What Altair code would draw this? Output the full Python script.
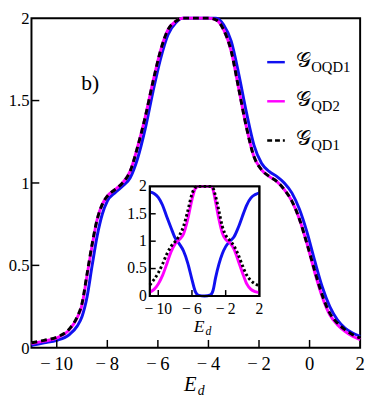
import altair as alt
import pandas as pd

# ---------------- data ----------------
E_main = [-11, -10.5, -10, -9.5, -9.2, -9.0, -8.8, -8.6, -8.4, -8.2, -8.0, -7.7, -7.4,
          -7.1, -6.8, -6.5, -6.2, -5.9, -5.6, -5.3, -5.0, -4.5, -4.0, -3.7, -3.4, -3.1,
          -2.8, -2.5, -2.2, -1.9, -1.6, -1.3, -1.0, -0.7, -0.4, -0.1, 0.2, 0.5, 0.8,
          1.1, 1.4, 1.7, 2.0]
G_OQD1_main = [0.015, 0.03, 0.045, 0.08, 0.13, 0.19, 0.31, 0.50, 0.68, 0.81, 0.89, 0.94, 0.98,
               1.03, 1.15, 1.33, 1.55, 1.75, 1.90, 1.97, 2.0, 2.0, 2.0, 2.0, 1.96, 1.86,
               1.66, 1.43, 1.23, 1.12, 1.07, 1.04, 1.00, 0.94, 0.84, 0.70, 0.53, 0.37, 0.25,
               0.17, 0.12, 0.09, 0.07]
G_QD2_main = [0.025, 0.04, 0.06, 0.11, 0.18, 0.26, 0.44, 0.62, 0.78, 0.87, 0.92, 0.96, 1.00,
              1.07, 1.22, 1.40, 1.61, 1.80, 1.93, 1.98, 2.0, 2.0, 2.0, 1.99, 1.93, 1.80,
              1.57, 1.34, 1.16, 1.08, 1.04, 1.01, 0.96, 0.89, 0.78, 0.63, 0.46, 0.31, 0.20,
              0.14, 0.10, 0.07, 0.05]
G_QD1_main = [0.03, 0.045, 0.065, 0.115, 0.185, 0.27, 0.45, 0.63, 0.78, 0.87, 0.92, 0.96, 1.00,
              1.07, 1.22, 1.40, 1.61, 1.80, 1.93, 1.98, 2.0, 2.0, 2.0, 1.99, 1.93, 1.80,
              1.57, 1.34, 1.16, 1.08, 1.04, 1.01, 0.96, 0.89, 0.78, 0.63, 0.47, 0.32, 0.21,
              0.15, 0.11, 0.08, 0.06]

E_inset = [-11, -10.5, -10, -9.5, -9.0, -8.5, -8.0, -7.5, -7.0, -6.5, -6.0, -5.6, -5.2,
           -4.5, -3.8, -3.5, -3.2, -2.8, -2.4, -2.0, -1.5, -1.0, -0.5, 0.0, 0.5, 1.0, 1.5, 2.0]
G_OQD1_inset = [1.9, 1.87, 1.8, 1.66, 1.45, 1.25, 1.06, 0.95, 0.82, 0.60, 0.30, 0.08, 0.01,
                0.0, 0.02, 0.10, 0.33, 0.58, 0.77, 0.90, 1.00, 1.08, 1.25, 1.46, 1.66, 1.79, 1.85, 1.88]
G_QD2_inset = [0.07, 0.12, 0.22, 0.37, 0.58, 0.80, 0.95, 1.03, 1.13, 1.40, 1.76, 1.96, 2.0,
               2.0, 2.0, 1.94, 1.72, 1.40, 1.15, 1.03, 0.97, 0.85, 0.64, 0.42, 0.22, 0.12, 0.08, 0.06]
G_QD1_inset = [0.2, 0.3, 0.42, 0.58, 0.76, 0.90, 0.99, 1.10, 1.27, 1.55, 1.86, 1.98, 2.0,
               2.0, 2.0, 1.97, 1.82, 1.55, 1.27, 1.11, 1.01, 0.91, 0.75, 0.55, 0.38, 0.28, 0.22, 0.18]

x_domain = [-11, 2]
y_domain = [0, 2]
x_ticks_main = [-10, -8, -6, -4, -2, 0, 2]
x_labels_main = ["\u2212\u200910", "\u2212\u20098", "\u2212\u20096", "\u2212\u20094", "\u2212\u20092", "0", "2"]
y_ticks_main = [0, 0.5, 1, 1.5, 2]
y_labels_main = ["0", "0.5", "1", "1.5", "2"]
x_ticks_inset = [-10, -6, -2, 2]
x_labels_inset = ["\u2212\u200910", "\u2212\u20096", "\u2212\u20092", "2"]
y_ticks_inset = [0, 0.5, 1, 1.5, 2]
y_labels_inset = ["0", "0.5", "1", "1.5", "2"]
series_names = ["OQD1", "QD2", "QD1"]

# ---------------- styling / layout ----------------
FONT = "'Liberation Serif', 'Times New Roman', Times, serif"
BLUE = "#1010f0"
MAGENTA = "#ff00ff"
BLACK = "#000000"
W, H = 336, 337
IX0, IX1 = 121, 233     # inset horizontal pixel range
IY0, IY1 = 284, 172     # inset vertical pixel range (bottom, top)

main_df = pd.DataFrame({"E": E_main, "OQD1": G_OQD1_main, "QD2": G_QD2_main, "QD1": G_QD1_main})
inset_df = pd.DataFrame({"E": E_inset, "OQD1": G_OQD1_inset, "QD2": G_QD2_inset, "QD1": G_QD1_inset})

xs_main = alt.Scale(domain=x_domain, nice=False, zero=False)
ys_main = alt.Scale(domain=y_domain, nice=False, zero=False)
xs_in = alt.Scale(domain=x_domain, range=[IX0, IX1], nice=False, zero=False)
ys_in = alt.Scale(domain=y_domain, range=[IY0, IY1], nice=False, zero=False)


def line(df, col, xs, ys, color, dash=None):
    kw = dict(color=color, strokeWidth=3, interpolate="monotone")
    if dash:
        kw["strokeDash"] = dash
    return alt.Chart(df).mark_line(**kw).encode(
        x=alt.X("E:Q", scale=xs, axis=None),
        y=alt.Y(f"{col}:Q", scale=ys, axis=None),
    )


def xticks(vals, xs, y0, length):
    return alt.Chart(pd.DataFrame({"t": vals})).mark_rule(color="black", strokeWidth=1.5).encode(
        x=alt.X("t:Q", scale=xs, axis=None), y=alt.value(y0), y2=alt.value(y0 - length))


def yticks(vals, ys, x0, length):
    return alt.Chart(pd.DataFrame({"t": vals})).mark_rule(color="black", strokeWidth=1.5).encode(
        y=alt.Y("t:Q", scale=ys, axis=None), x=alt.value(x0), x2=alt.value(x0 + length))


def xlabels(vals, labels, xs, ybase, size):
    return alt.Chart(pd.DataFrame({"t": vals, "lab": labels})).mark_text(
        font=FONT, fontSize=size, align="center", baseline="alphabetic", color="black").encode(
        x=alt.X("t:Q", scale=xs, axis=None), y=alt.value(ybase), text="lab:N")


def ylabels(vals, labels, ys, xright, size):
    return alt.Chart(pd.DataFrame({"t": vals, "lab": labels})).mark_text(
        font=FONT, fontSize=size, align="right", baseline="alphabetic", dy=round(size * 0.33),
        color="black").encode(
        y=alt.Y("t:Q", scale=ys, axis=None), x=alt.value(xright), text="lab:N")


main_layer = alt.layer(
    line(main_df, "OQD1", xs_main, ys_main, BLUE),
    line(main_df, "QD2", xs_main, ys_main, MAGENTA),
    line(main_df, "QD1", xs_main, ys_main, BLACK, dash=[6, 4]),
    xticks(x_ticks_main[:-1], xs_main, H, 8),
    yticks(y_ticks_main[1:-1], ys_main, 0, 8),
    xlabels(x_ticks_main, x_labels_main, xs_main, H + 23, 19),
    ylabels(y_ticks_main, y_labels_main, ys_main, -2, 17),
)

# ---------------- inset ----------------
frame_df = pd.DataFrame({"x0": [x_domain[0]], "x1": [x_domain[1]], "y0": [y_domain[0]], "y1": [y_domain[1]]})


def inset_rect(fill):
    return alt.Chart(frame_df).mark_rect(fill=fill, stroke="black", strokeWidth=2).encode(
        x=alt.X("x0:Q", scale=xs_in, axis=None), x2="x1:Q",
        y=alt.Y("y0:Q", scale=ys_in, axis=None), y2="y1:Q")


inset_layer = alt.layer(
    inset_rect("white"),
    line(inset_df, "OQD1", xs_in, ys_in, BLUE),
    line(inset_df, "QD2", xs_in, ys_in, MAGENTA),
    line(inset_df, "QD1", xs_in, ys_in, BLACK, dash=[2.5, 2.5]),
    xticks(x_ticks_inset[:-1], xs_in, IY0, 6),
    yticks(y_ticks_inset[1:-1], ys_in, IX0, 6),
    inset_rect(None),
    xlabels(x_ticks_inset, x_labels_inset, xs_in, IY0 + 18, 16),
    ylabels(y_ticks_inset, y_labels_inset, ys_in, IX0 - 3, 16),
)

# ---------------- annotations ----------------
one = pd.DataFrame({"a": [0]})


def txt(s, x, y, size, italic=False, font=FONT):
    return alt.Chart(one).mark_text(text=s, font=font, fontSize=size, align="left", baseline="alphabetic",
                                    fontStyle="italic" if italic else "normal", color="black").encode(
        x=alt.value(x), y=alt.value(y))


legend_styles = [(BLUE, None), (MAGENTA, None), (BLACK, [5, 3])]
legend_rows = [45, 85, 125]
legend_parts = []
for name, (color, dash), ry in zip(series_names, legend_styles, legend_rows):
    kw = dict(color=color, strokeWidth=2.5)
    if dash:
        kw["strokeDash"] = dash
    legend_parts.append(alt.Chart(one).mark_rule(**kw).encode(
        x=alt.value(241), x2=alt.value(259), y=alt.value(ry)))
    legend_parts.append(txt("\U0001D4A2", 270, ry + 5, 21, font="'DejaVu Serif', serif"))
    legend_parts.append(txt(name, 286, ry + 10, 15))

annot = alt.layer(
    txt("b)", 51, 73, 22),
    txt("E", 156, 381, 21, italic=True),
    txt("d", 170, 385, 14, italic=True),
    txt("E", 166, 321, 18, italic=True),
    txt("d", 178, 324, 12, italic=True),
    *legend_parts,
)

chart = alt.layer(main_layer, inset_layer, annot).resolve_scale(
    x="independent", y="independent"
).properties(
    width=W, height=H,
    autosize=alt.AutoSizeParams(type="none"),
    padding={"left": 24, "top": 6, "right": 6, "bottom": 49},
    background="white",
).configure_view(stroke="black", strokeWidth=2)

chart.save("out.html", embed_options={"renderer": "svg", "actions": False})
